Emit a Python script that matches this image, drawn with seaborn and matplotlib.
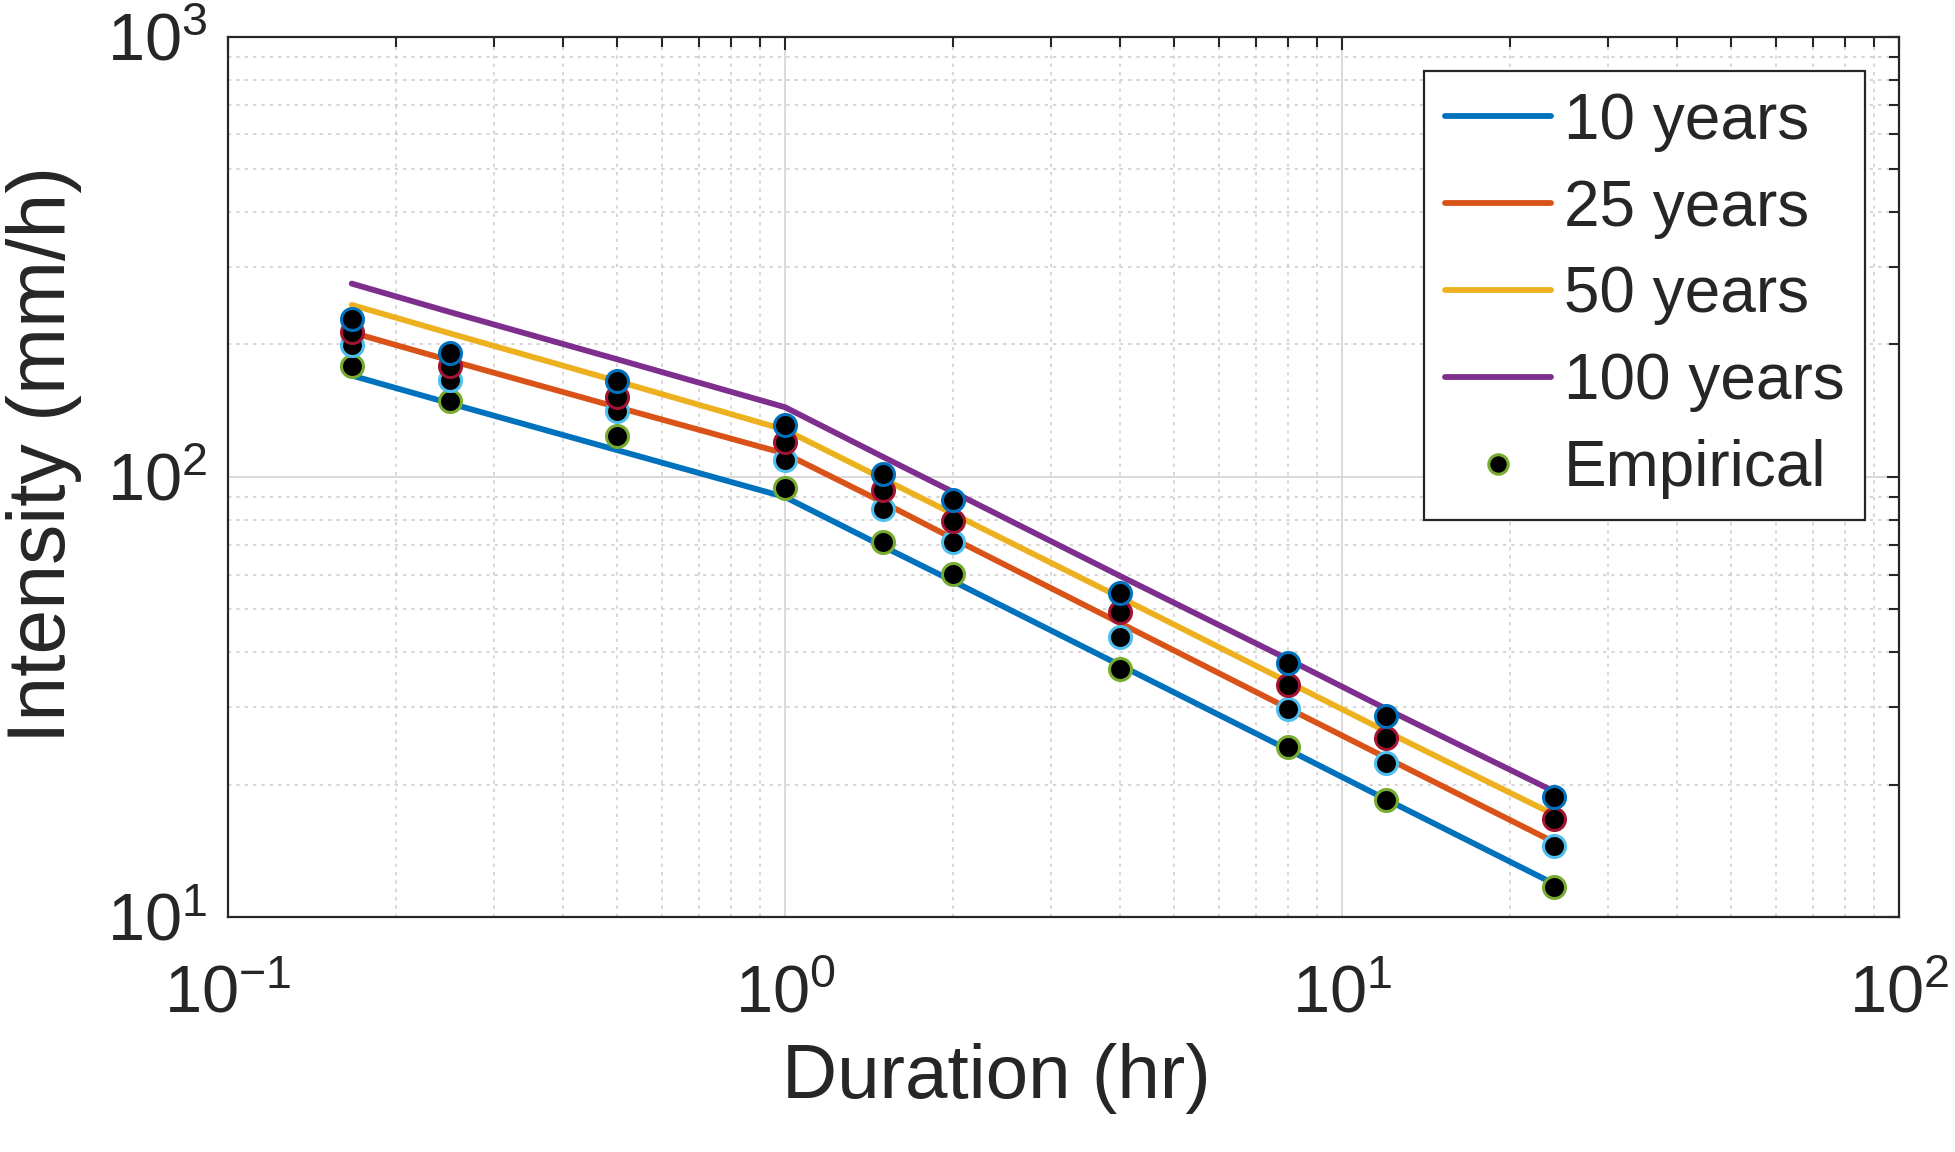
import numpy as np
import pandas as pd
import matplotlib
matplotlib.use("Agg")
import matplotlib.pyplot as plt
import seaborn as sns
from matplotlib.lines import Line2D
from matplotlib.ticker import LogLocator, NullFormatter

# ---------------- data ----------------
durations = [0.1667, 0.25, 0.5, 1, 1.5, 2, 4, 8, 12, 24]

return_periods = ["10 years", "25 years", "50 years", "100 years"]

idf_10 = [170, 147, 115, 90, 69.5, 58, 37.3, 24.0, 18.5, 11.9]
idf_25 = [213, 184, 144, 113, 87.5, 72.5, 46.5, 29.8, 23.0, 14.8]
idf_50 = [246, 212, 165, 128, 99, 82.5, 53.2, 34.2, 26.4, 17.1]
idf_100 = [275, 237, 185, 144, 111, 92.5, 59.5, 38.5, 29.7, 19.3]

emp_10 = [179, 149, 124, 94.3, 71.2, 60.3, 36.6, 24.4, 18.4, 11.7]
emp_25 = [199.5, 166, 141, 109, 84.6, 71.0, 43.2, 29.7, 22.4, 14.5]
emp_50 = [214, 179, 152, 120, 93.2, 79.6, 49.3, 33.7, 25.5, 16.7]
emp_100 = [228, 191, 165, 131, 101.8, 88.7, 54.5, 37.8, 28.6, 18.7]

line_colors = ["#0072BD", "#D95319", "#EDB120", "#7E2F8E"]
edge_colors = ["#77AC30", "#4DBEEE", "#A2142F", "#0072BD"]

# ---------------- style ----------------
sns.set_style("white")
plt.rcParams["font.family"] = ["Liberation Sans", "DejaVu Sans"]
plt.rcParams["mathtext.fontset"] = "custom"
plt.rcParams["mathtext.rm"] = "Liberation Sans"
plt.rcParams["mathtext.default"] = "regular"

fig = plt.figure(figsize=(19.56, 11.52), dpi=100)
ax = fig.add_axes([0.1166, 0.204, 0.8543, 0.764])
ax.set_xscale("log")
ax.set_yscale("log")

curves = pd.DataFrame({
    "Duration": durations * 4,
    "Intensity": idf_10 + idf_25 + idf_50 + idf_100,
    "Return period": sum([[rp] * len(durations) for rp in return_periods], []),
})

sns.lineplot(data=curves, x="Duration", y="Intensity", hue="Return period",
             hue_order=return_periods, palette=line_colors, linewidth=4.2,
             sort=False, estimator=None, legend=False, ax=ax, zorder=3)

for vals, ec in zip([emp_10, emp_25, emp_50, emp_100], edge_colors):
    sns.scatterplot(x=durations, y=vals, color="black", edgecolor=ec,
                    linewidth=2.2, s=250, ax=ax, zorder=4, legend=False)

ax.set_xlim(0.1, 100)
ax.set_ylim(10, 1000)

# grid
ax.grid(True, which="major", color="#d9d9d9", linewidth=1.4, linestyle="-")
ax.grid(True, which="minor", color="#cfcfcf", linewidth=1.2, linestyle=(0, (2, 3)))
ax.set_axisbelow(True)

ax.xaxis.set_major_locator(LogLocator(base=10, numticks=10))
ax.yaxis.set_major_locator(LogLocator(base=10, numticks=10))
ax.xaxis.set_minor_locator(LogLocator(base=10, subs=np.arange(2, 10), numticks=20))
ax.yaxis.set_minor_locator(LogLocator(base=10, subs=np.arange(2, 10), numticks=20))
ax.xaxis.set_minor_formatter(NullFormatter())
ax.yaxis.set_minor_formatter(NullFormatter())

ax.tick_params(which="both", direction="in", top=True, right=True,
               color="#262626", width=1.5)
ax.tick_params(which="major", length=9, labelsize=48)
ax.tick_params(which="minor", length=7)
ax.tick_params(axis="x", which="major", pad=34)
ax.tick_params(axis="y", which="major", pad=15)

for sp in ax.spines.values():
    sp.set_color("#262626")
    sp.set_linewidth(1.6)
    sp.set_visible(True)

ax.set_xlabel("Duration (hr)", fontsize=55)
ax.set_ylabel("Intensity (mm/h)", fontsize=58)
ax.xaxis.set_label_coords(0.46, -0.184)
ax.yaxis.set_label_coords(-0.110, 0.526)
ax.xaxis.label.set_va("center")
ax.yaxis.label.set_va("center")

handles = [Line2D([0], [0], color=c, linewidth=4.2) for c in line_colors]
handles.append(Line2D([0], [0], linestyle="none", marker="o", markersize=14,
                      markerfacecolor="black", markeredgecolor=edge_colors[0],
                      markeredgewidth=2.2))
labels = return_periods + ["Empirical"]
leg = ax.legend(handles, labels, loc="upper right", fontsize=46,
                frameon=True, fancybox=False, framealpha=1,
                edgecolor="#262626", borderaxespad=0.53, borderpad=0.33,
                handlelength=1.65, handletextpad=0.2, labelspacing=0.42)
leg.get_frame().set_linewidth(1.6)

fig.savefig("out.png", dpi=100)
